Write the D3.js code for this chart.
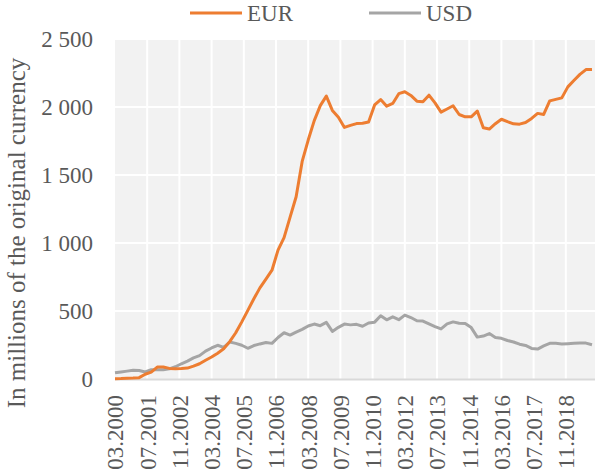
<!DOCTYPE html>
<html>
<head>
<meta charset="utf-8">
<script src="https://cdn.jsdelivr.net/npm/d3@7"></script>
<style>
  body { margin: 0; background: #fff; }
  text { font-family: "Liberation Serif", "Times New Roman", serif; fill: #595959; }
</style>
</head>
<body>
<div id="chart"></div>
<script>
// quarterly periods, MM.YYYY
var periods = [
  "03.2000","06.2000","09.2000","12.2000","03.2001","06.2001","09.2001","12.2001",
  "03.2002","06.2002","09.2002","12.2002","03.2003","06.2003","09.2003","12.2003",
  "03.2004","06.2004","09.2004","12.2004","03.2005","06.2005","09.2005","12.2005",
  "03.2006","06.2006","09.2006","12.2006","03.2007","06.2007","09.2007","12.2007",
  "03.2008","06.2008","09.2008","12.2008","03.2009","06.2009","09.2009","12.2009",
  "03.2010","06.2010","09.2010","12.2010","03.2011","06.2011","09.2011","12.2011",
  "03.2012","06.2012","09.2012","12.2012","03.2013","06.2013","09.2013","12.2013",
  "03.2014","06.2014","09.2014","12.2014","03.2015","06.2015","09.2015","12.2015",
  "03.2016","06.2016","09.2016","12.2016","03.2017","06.2017","09.2017","12.2017",
  "03.2018","06.2018","09.2018","12.2018","03.2019","06.2019","09.2019","12.2019"
];

var eur = [
  2, 3, 5, 7, 10, 35, 50, 88, 88, 78,
  76, 77, 80, 95, 112, 138, 162, 190, 222, 275,
  340, 420, 505, 590, 670, 735, 800, 948, 1040, 1190,
  1340, 1600, 1757, 1900, 2010, 2080, 1975, 1925, 1850, 1865,
  1878, 1880, 1890, 2015, 2055, 2006, 2026, 2098, 2112, 2085,
  2043, 2038, 2087, 2030, 1962, 1985, 2009, 1945, 1928, 1928,
  1970, 1847, 1838, 1877, 1910, 1892, 1876, 1874, 1886, 1916,
  1953, 1945, 2045, 2056, 2067, 2148, 2195, 2240, 2275, 2276
];

var usd = [
  46, 52, 58, 65, 63, 52, 68, 68, 68, 75,
  90, 112, 132, 155, 172, 205, 228, 248, 233, 272,
  262, 248, 226, 246, 258, 268, 262, 305, 340, 323,
  345, 365, 390, 404, 392, 416, 350, 380, 404, 398,
  402, 388, 412, 418, 465, 435, 457, 436, 470, 452,
  428, 426, 405, 385, 368, 405, 420, 410, 408, 378,
  308, 316, 334, 305, 299, 283, 272, 256, 247, 225,
  220, 243, 262, 262, 258, 260, 262, 264, 264, 252
];

var xTickLabels = ["03.2000","07.2001","11.2002","03.2004","07.2005","11.2006","03.2008",
  "07.2009","11.2010","03.2012","07.2013","11.2014","03.2016","07.2017","11.2018"];
var yTicks = [0, 500, 1000, 1500, 2000, 2500];

// months since 03.2000
function monthIndex(s) {
  var p = s.split(".");
  return (+p[1] - 2000) * 12 + (+p[0] - 3);
}

var w = 595, h = 475;
var pLeft = 115, pRight = 594, pTop = 39, pBottom = 379;

var svg = d3.select("#chart").append("svg")
  .attr("width", w)
  .attr("height", h);

var x = d3.scaleLinear().domain([0, 238]).range([pLeft, pRight]);
var y = d3.scaleLinear().domain([0, 2500]).range([pBottom, pTop]);

// plot background
svg.append("rect")
  .attr("x", pLeft).attr("y", pTop)
  .attr("width", w - pLeft).attr("height", pBottom - pTop)
  .attr("fill", "#f2f2f2");

// gridlines
svg.append("g").selectAll("line").data(yTicks.slice(1)).enter().append("line")
  .attr("x1", pLeft).attr("x2", w)
  .attr("y1", d => y(d)).attr("y2", d => y(d))
  .attr("stroke", "#fff").attr("stroke-width", 2);

svg.append("g").selectAll("line").data(xTickLabels.slice(1)).enter().append("line")
  .attr("x1", d => x(monthIndex(d))).attr("x2", d => x(monthIndex(d)))
  .attr("y1", pTop).attr("y2", pBottom)
  .attr("stroke", "#fff").attr("stroke-width", 2);

// y axis labels
var fmt = d => d3.format(",")(d).replace(/,/g, "\u00a0");
var yAxis = svg.append("g")
  .attr("transform", "translate(" + (pLeft - 22) + ",0)")
  .call(d3.axisLeft(y).tickValues(yTicks).tickFormat(fmt).tickSize(0));
yAxis.select(".domain").remove();
yAxis.selectAll("text")
  .style("font-size", "23px")
  .attr("x", 0)
  .attr("dy", "0.34em");

// x axis
svg.append("line")
  .attr("x1", pLeft).attr("x2", w)
  .attr("y1", pBottom + 0.5).attr("y2", pBottom + 0.5)
  .attr("stroke", "#d9d9d9").attr("stroke-width", 2);

var xAxis = svg.append("g")
  .attr("transform", "translate(0," + pBottom + ")")
  .call(d3.axisBottom(x).tickValues(xTickLabels.map(monthIndex))
    .tickFormat((d, i) => xTickLabels[i]).tickSize(0));
xAxis.select(".domain").remove();
xAxis.selectAll("text")
  .style("font-size", "23px")
  .attr("text-anchor", "end")
  .attr("transform", "rotate(-90)")
  .attr("x", -16)
  .attr("y", 0)
  .attr("dy", "0.34em");

// lines
var line = d3.line()
  .x((d, i) => x(monthIndex(periods[i])))
  .y(d => y(d));

svg.append("path").datum(usd)
  .attr("d", line)
  .attr("fill", "none")
  .attr("stroke", "#a5a5a5")
  .attr("stroke-width", 3)
  .attr("stroke-linejoin", "round");

svg.append("path").datum(eur)
  .attr("d", line)
  .attr("fill", "none")
  .attr("stroke", "#ed7d31")
  .attr("stroke-width", 3)
  .attr("stroke-linejoin", "round");

// legend
var legend = [
  {name: "EUR", color: "#ed7d31", x: 190},
  {name: "USD", color: "#a5a5a5", x: 369}
];
var lg = svg.append("g").selectAll("g").data(legend).enter().append("g")
  .attr("transform", d => "translate(" + d.x + ",13)");
lg.append("line")
  .attr("x1", 0).attr("x2", 52)
  .attr("stroke", d => d.color).attr("stroke-width", 3);
lg.append("text")
  .attr("x", 57).attr("y", 8)
  .style("font-size", "23px")
  .text(d => d.name);

// y title
svg.append("text")
  .attr("transform", "translate(25,233) rotate(-90)")
  .attr("text-anchor", "middle")
  .style("font-size", "25px")
  .text("In millions of the original currency");
</script>
</body>
</html>
